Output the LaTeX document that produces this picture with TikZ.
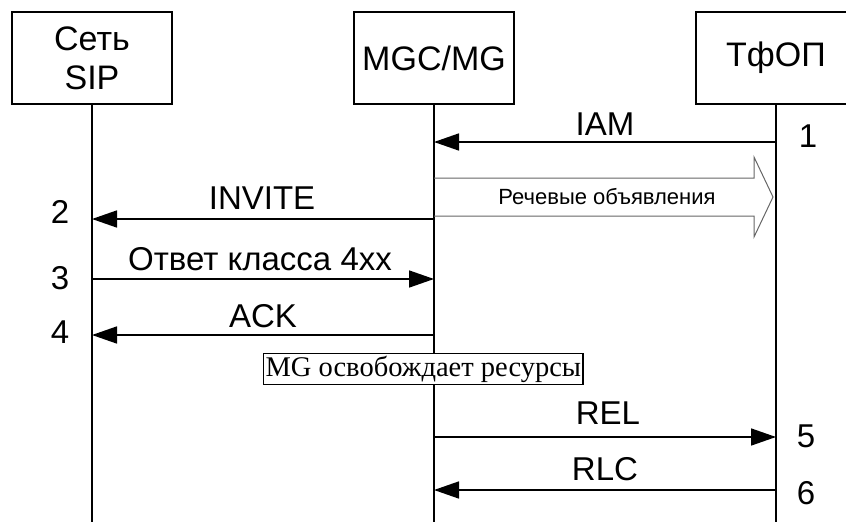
\documentclass[tikz,border=0pt]{standalone}
\usepackage{fontspec}
\setmainfont{Liberation Sans}
\newfontfamily\timesrm{Liberation Serif}
\usetikzlibrary{positioning,arrows.meta}

\begin{document}
\begin{tikzpicture}[x=1pt, y=-1pt,
  party/.style={draw, line width=1.6pt, minimum width=160pt, minimum height=92pt, inner sep=0pt, align=center, font=\fontsize{34}{39}\selectfont},
  msg/.style={-{Triangle[length=25pt,width=17pt]}, line width=1.6pt},
  life/.style={line width=1.6pt},
  lbl/.style={font=\fontsize{33}{36}\selectfont},
  note/.style={draw, fill=white, line width=1.2pt, inner sep=2pt, minimum height=26pt, font=\timesrm\fontsize{28.5}{30}\selectfont}
]
\clip (0,0) rectangle (846,522);
% participants
\node[party] (sip) at (92,58) {Сеть\\SIP};
\node[party] (mgc) at (434,58) {MGC/MG};
\node[party] (tfop) at (776,58) {ТфОП};
\coordinate (bottom) at (0,522);
\draw[life] (sip.south) -- (sip |- bottom);
\draw[life] (mgc.south) -- (mgc |- bottom);
\draw[life] (tfop.south) -- (tfop |- bottom);
% message rows
\coordinate (r1) at (0,142);
\coordinate (r2) at (0,219);
\coordinate (r3) at (0,279);
\coordinate (r4) at (0,335);
\coordinate (r5) at (0,437);
\coordinate (r6) at (0,490);
\draw[msg] (tfop |- r1) -- (mgc |- r1);
\draw[msg] (mgc |- r2) -- (sip |- r2);
\draw[msg] (sip |- r3) -- (mgc |- r3);
\draw[msg] (mgc |- r4) -- (sip |- r4);
\draw[msg] (mgc |- r5) -- (tfop |- r5);
\draw[msg] (tfop |- r6) -- (mgc |- r6);
\node[lbl] (iam) at (605,124) {IAM};
\node[lbl] (invite) at (262,198) {INVITE};
\node[lbl] (otvet) at (260,259) {Ответ класса 4xx};
\node[lbl] (ack) at (263,316) {ACK};
\node[lbl] (rel) at (608,413) {REL};
\node[lbl] (rlc) at (605,469) {RLC};
% numbers
\node[lbl] (n1) at (808,136) {1};
\node[lbl] (n2) at (60,212) {2};
\node[lbl] (n3) at (60,278) {3};
\node[lbl] (n4) at (60,332) {4};
\node[lbl] (n5) at (806,436) {5};
\node[lbl] (n6) at (806,493) {6};
% speech announcements
\draw[gray!80!black, line width=1pt] (mgc |- 0,178) -- (754,178) -- (754,157) -- (773,197)
  -- (754,237) -- (754,216) -- (mgc |- 0,216);
\node[font=\fontsize{22}{26}\selectfont] (speech) at (607,197) {Речевые объявления};
% MG releases resources
\node[note, anchor=west] (release) at (263,369) {MG освобождает ресурсы};
\end{tikzpicture}
\end{document}
